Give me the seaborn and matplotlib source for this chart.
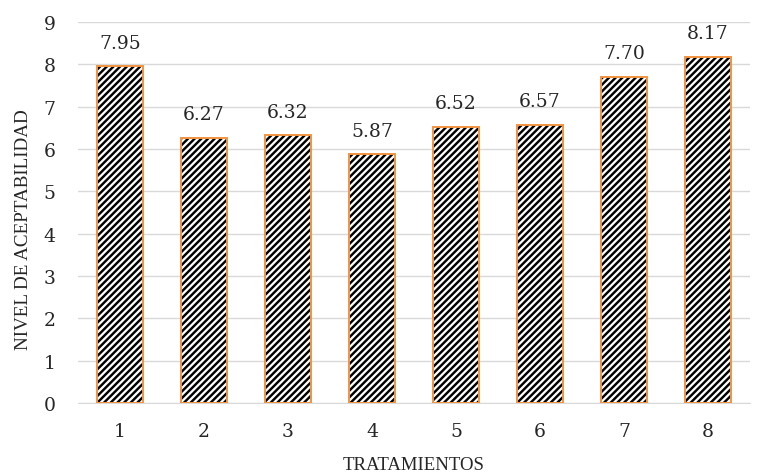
import numpy as np
import pandas as pd
import seaborn as sns
import matplotlib.pyplot as plt
from matplotlib.patches import Rectangle

# Chart data
tratamientos = ["1", "2", "3", "4", "5", "6", "7", "8"]
aceptabilidad = [7.95, 6.27, 6.32, 5.87, 6.52, 6.57, 7.70, 8.17]

sns.set_style("white")
plt.rcParams['font.family'] = ['DejaVu Serif']
plt.rcParams['hatch.linewidth'] = 1.75
plt.rcParams['hatch.color'] = 'black'

df = pd.DataFrame({"tratamiento": tratamientos, "nivel": aceptabilidad})

fig = plt.figure(figsize=(7.63, 4.77), dpi=100)
ax = fig.add_axes([0.102, 0.153, 0.881, 0.799])

sns.barplot(data=df, x="tratamiento", y="nivel", ax=ax, width=0.54,
            color="white", edgecolor="black", linewidth=0, hatch="/////")

# orange outline on top of the hatched bars
for p in ax.patches:
    ax.add_patch(Rectangle(p.get_xy(), p.get_width(), p.get_height(),
                           fill=False, edgecolor="#F29440", linewidth=1.4, zorder=3))

for i, v in enumerate(aceptabilidad):
    ax.text(i, v + 0.35, f"{v:.2f}", ha="center", va="bottom", fontsize=13.5, color="#262626")

ax.set_ylim(0, 9)
ax.set_yticks(range(0, 10))
ax.set_xlim(-0.5, 7.5)
ax.yaxis.grid(True, color="#D9D9D9", linewidth=1)
ax.set_axisbelow(True)
for s in ["top", "right", "left"]:
    ax.spines[s].set_visible(False)
ax.spines["bottom"].set_color("#D9D9D9")
ax.tick_params(axis="both", length=0, labelsize=13.5, labelcolor="#262626")
ax.tick_params(axis="y", pad=16)
ax.tick_params(axis="x", pad=14)
ax.set_xlabel("TRATAMIENTOS", fontsize=13.5, color="#262626", family="Liberation Serif")
ax.set_ylabel("NIVEL DE ACEPTABILIDAD", fontsize=13.8, color="#262626", family="Liberation Serif")
ax.xaxis.set_label_coords(0.5, -0.14)
ax.yaxis.set_label_coords(-0.068, 0.457)

fig.savefig("out.png", dpi=100)
